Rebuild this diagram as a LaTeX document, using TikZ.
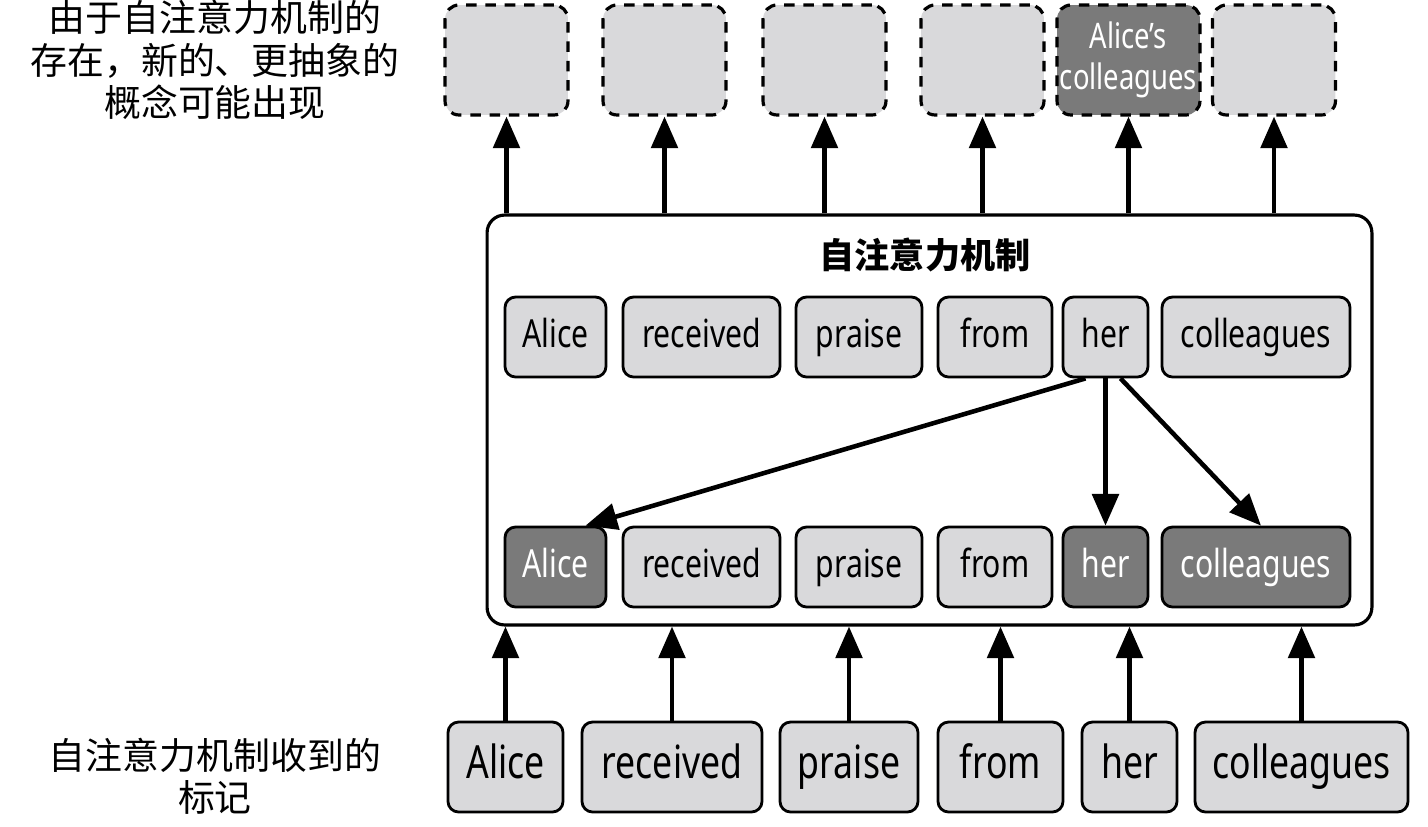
\documentclass[tikz,border=0pt]{standalone}
\usepackage{fontspec}
\setmainfont{Noto Sans CJK SC}
\newfontfamily\latfont[FakeStretch=0.78]{Noto Sans}
\usetikzlibrary{arrows.meta,positioning}
\definecolor{TokLight}{HTML}{D9D9DB}
\definecolor{TokDark}{HTML}{7A7A7A}

\begin{document}
\begin{tikzpicture}[
  x=0.02cm, y=-0.02cm,
  tok/.style={rectangle, rounded corners=6pt, draw=black, line width=1.6pt, fill=TokLight, minimum height=1.6cm, inner sep=0pt, text height=0.55cm, text depth=0.15cm, font=\latfont\fontsize{22}{24}\selectfont},
  hot/.style={tok, fill=TokDark, text=white},
  ghost/.style={rectangle, rounded corners=8pt, draw=black, line width=1.8pt, dash pattern=on 6pt off 5pt, fill=TokLight, minimum width=2.46cm, minimum height=2.2cm, align=center, inner sep=0pt},
  arrow/.style={-{Triangle[length=18pt,width=15pt]}, line width=2.6pt},
  note/.style={align=center, font=\fontsize{21}{24}\selectfont}
]
\useasboundingbox (0,0) rectangle (1428,826);

% notes on the left
\node[note] (topnote) at (215,60) {由于自注意力机制的\\存在，新的、更抽象的\\概念可能出现};
\node[note] (botnote) at (215,776) {自注意力机制收到的\\标记};

% frame of the self-attention block
\node[rectangle, rounded corners=10pt, draw=black, line width=1.8pt, minimum width=17.7cm, minimum height=8.2cm] (attn) at (929.5,420) {};
\node[font=\bfseries\fontsize{20}{24}\selectfont] (title) at (925,255) {自注意力机制};

% output concepts
\foreach \n/\a/\b in {o1/445/568, o2/603/726, o3/763/886, o4/921/1044, o6/1213/1335}
  \node[ghost] (\n) at ({(\a+\b)/2},60) {};
\node[ghost, fill=TokDark, text=white, minimum width=2.86cm, font=\latfont\fontsize{20}{23}\selectfont] (o5) at (1128.5,60) {Alice’s\\colleagues};

% token rows inside the block
\foreach \n/\a/\b/\t in {a1/505/606/Alice, a2/623/780/received, a3/796/922/praise, a4/938/1052/from, a5/1063/1148/her, a6/1162/1350/colleagues}
  \node[tok, minimum width={(\b-\a)*0.02cm}] (\n) at ({(\a+\b)/2},337) {\t};
\foreach \n/\a/\b/\t/\s in {b1/505/606/Alice/hot, b2/623/780/received/tok, b3/796/922/praise/tok, b4/938/1052/from/tok, b5/1063/1148/her/hot, b6/1162/1350/colleagues/hot}
  \node[\s, minimum width={(\b-\a)*0.02cm}] (\n) at ({(\a+\b)/2},567) {\t};

% input tokens
\foreach \n/\a/\b/\t in {i1/448/563/Alice, i2/582/762/received, i3/780/918/praise, i4/938/1063/from, i5/1082/1177/her, i6/1195/1408/colleagues}
  \node[tok, minimum width={(\b-\a)*0.02cm}, minimum height=1.8cm, text height=0.65cm, text depth=0.18cm, font=\latfont\fontsize{26}{28}\selectfont] (\n) at ({(\a+\b)/2},767) {\t};

% attention of "her"
\draw[arrow] ([xshift=-0.4cm]a5.south) -- ([xshift=0.6cm]b1.north);
\draw[arrow] (a5.south) -- (b5.north);
\draw[arrow] ([xshift=0.3cm]a5.south) -- ([xshift=0.1cm]b6.north);

% block to outputs
\foreach \n in {o1,o2,o3,o4,o5,o6}
  \draw[arrow] (\n.south |- attn.north) -- (\n.south);

% inputs to block
\foreach \n in {i1,i2,i3,i4,i5,i6}
  \draw[arrow] (\n.north) -- (\n.north |- attn.south);

\end{tikzpicture}
\end{document}
